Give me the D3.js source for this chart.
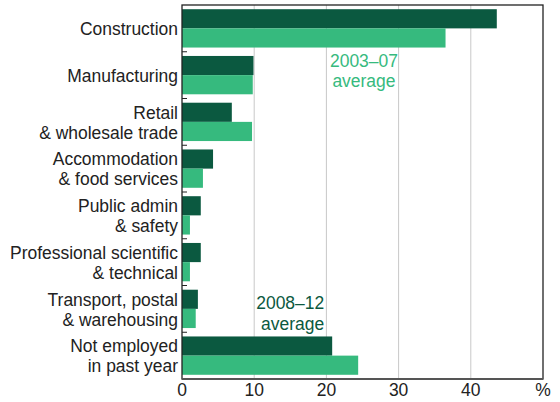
<!DOCTYPE html>
<html>
<head>
<meta charset="utf-8">
<script src="https://cdn.jsdelivr.net/npm/d3@7.9.0/dist/d3.min.js"></script>
<style>
  body { margin: 0; background: #fff; }
  svg { display: block; font-family: "Liberation Sans", Arial, sans-serif; }
</style>
</head>
<body>
<svg id="chart" width="560" height="402"></svg>
<script>
// data (share of people, %)
const categories = [
  ["Construction"],
  ["Manufacturing"],
  ["Retail", "& wholesale trade"],
  ["Accommodation", "& food services"],
  ["Public admin", "& safety"],
  ["Professional scientific", "& technical"],
  ["Transport, postal", "& warehousing"],
  ["Not employed", "in past year"]
];
const avg2008_12 = [43.6, 9.9, 6.9, 4.3, 2.6, 2.6, 2.2, 20.8];
const avg2003_07 = [36.5, 9.8, 9.7, 2.9, 1.1, 1.1, 1.9, 24.4];
const xTicks = [0, 10, 20, 30, 40];

const dark = "#0b5940";
const light = "#36ba7e";
// the original type is a little taller than it is wide
const fs = 18.5;
const sx = 0.945;

const svg = d3.select('#chart');
const margin = { top: 5, right: 17, bottom: 23, left: 182 };
const width = 560 - margin.left - margin.right;
const height = 402 - margin.top - margin.bottom;

const g = svg.append('g').attr('transform', `translate(${margin.left},${margin.top})`);

let x = d3.scaleLinear().domain([0, 50]).range([0, width]);
let y = d3.scaleBand().domain(d3.range(categories.length)).range([0, height]);
let barH = y.bandwidth() * 0.41;
let barPad = (y.bandwidth() - 2 * barH) / 2;

function label(px, anchor, color, lines, firstY, lineH) {
  let t = g.append('text')
    .attr('transform', `translate(${px},0) scale(${sx},1)`)
    .attr('text-anchor', anchor)
    .attr('font-size', fs)
    .attr('fill', color);
  lines.forEach((l, j) => {
    t.append('tspan').attr('x', 0).attr('y', firstY + j * lineH).text(l);
  });
  return t;
}

// gridlines
g.selectAll('line.grid')
  .data(xTicks.slice(1))
  .join('line')
  .attr('class', 'grid')
  .attr('x1', d => x(d)).attr('x2', d => x(d))
  .attr('y1', 0).attr('y2', height)
  .attr('stroke', '#c8c8c8')
  .attr('stroke-width', 1);

// bars
categories.forEach((c, i) => {
  g.append('rect')
    .attr('x', 0)
    .attr('y', y(i) + barPad)
    .attr('width', x(avg2008_12[i]))
    .attr('height', barH)
    .attr('fill', dark);
  g.append('rect')
    .attr('x', 0)
    .attr('y', y(i) + barPad + barH)
    .attr('width', x(avg2003_07[i]))
    .attr('height', barH)
    .attr('fill', light);
});

// small ticks between categories
g.selectAll('line.cat-tick')
  .data(d3.range(1, categories.length))
  .join('line')
  .attr('class', 'cat-tick')
  .attr('x1', 0).attr('x2', 5)
  .attr('y1', d => y(d)).attr('y2', d => y(d))
  .attr('stroke', '#222')
  .attr('stroke-width', 1);

// frame
g.append('rect')
  .attr('x', 0).attr('y', 0)
  .attr('width', width).attr('height', height)
  .attr('fill', 'none')
  .attr('stroke', '#222')
  .attr('stroke-width', 1.3);
g.append('line')
  .attr('x1', 0).attr('x2', width)
  .attr('y1', height).attr('y2', height)
  .attr('stroke', '#555')
  .attr('stroke-width', 2);

// category labels
categories.forEach((lines, i) => {
  let cy = y(i) + y.bandwidth() / 2;
  label(-4, 'end', '#222', lines, cy + 6.8 - (lines.length - 1) * 10, 20);
});

// x tick labels
xTicks.forEach(d => label(x(d), 'middle', '#222', [String(d)], height + 17.5, 0));
label(x(50), 'middle', '#222', ['%'], height + 17.5, 0);

// series annotations
label(x(25.2), 'middle', light, ['2003–07', 'average'], 62, 20);
label(x(19.7), 'end', dark, ['2008–12', 'average'], 304, 21);
</script>
</body>
</html>
